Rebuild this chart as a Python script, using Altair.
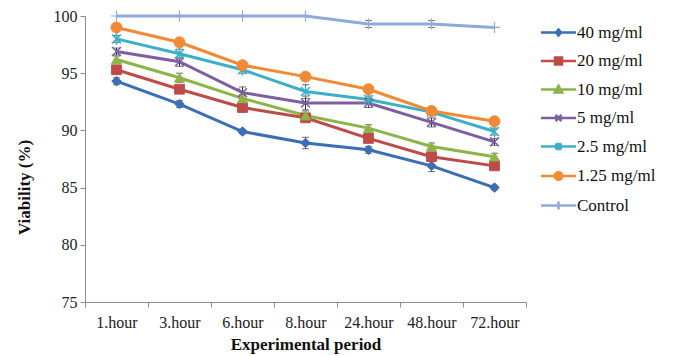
import altair as alt
import pandas as pd
import math

periods = ["1.hour", "3.hour", "6.hour", "8.hour", "24.hour", "48.hour", "72.hour"]
series_names = ["40 mg/ml", "20 mg/ml", "10 mg/ml", "5 mg/ml", "2.5 mg/ml", "1.25 mg/ml", "Control"]

v40 = [94.3, 92.3, 89.9, 88.9, 88.3, 86.9, 85.0]
v20 = [95.3, 93.6, 92.0, 91.1, 89.3, 87.7, 86.9]
v10 = [96.2, 94.6, 92.8, 91.3, 90.2, 88.6, 87.7]
v5 = [96.9, 96.0, 93.3, 92.4, 92.4, 90.7, 89.0]
v2_5 = [98.0, 96.7, 95.3, 93.4, 92.7, 91.6, 89.9]
v1_25 = [99.0, 97.7, 95.7, 94.7, 93.6, 91.7, 90.8]
vctrl = [100.0, 100.0, 100.0, 100.0, 99.3, 99.3, 99.0]

e40 = [0.3, 0.3, 0.2, 0.5, 0.3, 0.5, 0.2]
e20 = [0.3, 0.3, 0.2, 0.3, 0.3, 0.3, 0.3]
e10 = [0.3, 0.4, 0.3, 0.4, 0.3, 0.3, 0.3]
e5 = [0.3, 0.4, 0.5, 0.6, 0.4, 0.4, 0.3]
e2_5 = [0.3, 0.4, 0.3, 0.6, 0.3, 0.3, 0.3]
e1_25 = [0.2, 0.2, 0.2, 0.2, 0.2, 0.2, 0.2]
ectrl = [0.0, 0.0, 0.0, 0.0, 0.3, 0.3, 0.0]

colors = ["#3A6EB5", "#BE4B48", "#8DB449", "#7D5FA0", "#3DAFC8", "#F08A35", "#8DAADB"]

values = [v40, v20, v10, v5, v2_5, v1_25, vctrl]
errors = [e40, e20, e10, e5, e2_5, e1_25, ectrl]

rows = []
for name, vals, errs in zip(series_names, values, errors):
    for p, v, e in zip(periods, vals, errs):
        rows.append({"series": name, "period": p, "value": v, "lo": v - e, "hi": v + e})
df = pd.DataFrame(rows)

# chart marker styles per series: (shape, size, strokeWidth)
marker_styles = [
    ("diamond", 90, 1),
    ("square", 95, 1),
    ("triangle-up", 100, 1),
    ("M-1,-1L1,1M-1,1L1,-1", 80, 1.5),
    ("M-1,-1L1,1M-1,1L1,-1M0,-1.3L0,1.3", 80, 1.5),
    ("circle", 120, 1),
    ("M-1,0L1,0M0,-1L0,1", 120, 1.2),
]


def poly_circle(r, n=16):
    pts = []
    for i in range(n):
        a = 2 * math.pi * i / n
        pts.append(f"{r * math.cos(a):.3f},{r * math.sin(a):.3f}")
    return "M" + "L".join(pts) + "Z"


# legend symbols: line segment + marker
ln = "M-3.5,0L3.5,0"
legend_paths = [
    ln + "M0,-0.6L0.5,0L0,0.6L-0.5,0Z",
    ln + "M-0.7,-0.7L0.7,-0.7L0.7,0.7L-0.7,0.7Z",
    ln + "M0,-0.75L0.75,0.6L-0.75,0.6Z",
    ln + "M-0.6,-0.6L0.6,0.6M-0.6,0.6L0.6,-0.6",
    ln + "M-0.6,-0.6L0.6,0.6M-0.6,0.6L0.6,-0.6M0,-0.75L0,0.75",
    ln + poly_circle(0.75),
    ln + "M0,-0.8L0,0.8",
]

legend_opts = dict(
    title=None,
    orient="none",
    legendX=465,
    legendY=8,
    padding=0,
    labelFont="Liberation Serif",
    labelFontSize=17,
    labelColor="#111111",
    rowPadding=10.5,
    symbolSize=100,
    symbolStrokeWidth=2.5,
    symbolOpacity=1,
    labelOffset=10,
)

x_enc = alt.X(
    "period:N",
    sort=periods,
    scale=alt.Scale(type="band", domain=periods, paddingInner=0, paddingOuter=0),
    axis=alt.Axis(
        title="Experimental period",
        labelAngle=0,
        tickBand="extent",
        tickSize=5,
        labelPadding=7,
        titlePadding=6,
    ),
)
y_enc = alt.Y(
    "value:Q",
    scale=alt.Scale(domain=[75, 100], nice=False, zero=False),
    axis=alt.Axis(
        title="Viability (%)",
        values=[75, 80, 85, 90, 95, 100],
        tickSize=5,
        labelPadding=3,
        titlePadding=20,
        titleY=171,
    ),
)

base = alt.Chart(df)

lines = base.mark_line(strokeWidth=3).encode(
    x=x_enc,
    y=y_enc,
    color=alt.Color(
        "series:N",
        scale=alt.Scale(domain=series_names, range=colors),
        legend=alt.Legend(**legend_opts),
    ),
    strokeWidth=alt.condition(alt.datum.series == "Control", alt.value(2.5), alt.value(3)),
    detail="series:N",
)

point_layers = []
for name, col, (shp, sz, sw) in zip(series_names, colors, marker_styles):
    point_layers.append(
        base.transform_filter(alt.datum.series == name)
        .mark_point(shape=shp, size=sz, filled=True, fill=col, stroke=col, strokeWidth=sw, opacity=1)
        .encode(x=x_enc, y=y_enc)
    )

err_base = base.transform_filter(alt.datum.hi > alt.datum.lo)
err_rule = err_base.mark_rule(color="#333333", strokeWidth=1).encode(x=x_enc, y="lo:Q", y2="hi:Q")
err_lo = err_base.mark_tick(color="#333333", thickness=1, size=7).encode(x=x_enc, y="lo:Q")
err_hi = err_base.mark_tick(color="#333333", thickness=1, size=7).encode(x=x_enc, y="hi:Q")

# invisible layer that only supplies the legend symbols (line + marker)
legend_layer = base.mark_point(
    filled=True, size=100, strokeWidth=2.5, opacity=0
).encode(
    x=x_enc,
    y=y_enc,
    shape=alt.Shape(
        "series:N",
        scale=alt.Scale(domain=series_names, range=legend_paths),
        legend=alt.Legend(**legend_opts),
    ),
    fill=alt.Fill(
        "series:N",
        scale=alt.Scale(domain=series_names, range=colors),
        legend=alt.Legend(**legend_opts),
    ),
)

chart = alt.layer(
    lines, err_rule, err_lo, err_hi, *point_layers, legend_layer
).properties(
    width=441,
    height=286,
    autosize=alt.AutoSizeParams(type="none"),
    padding={"left": 85, "top": 16, "right": 155, "bottom": 54},
).configure(
    font="Liberation Serif",
).configure_view(
    stroke=None
).configure_axis(
    grid=False,
    labelFont="Liberation Serif",
    labelFontSize=16,
    labelColor="#222222",
    titleFont="Liberation Serif",
    titleFontSize=17,
    titleFontWeight="bold",
    titleColor="#111111",
    domainColor="#8c8c8c",
    tickColor="#8c8c8c",
).configure_legend(
    labelFont="Liberation Serif",
    labelFontSize=17,
    labelColor="#111111",
)

chart.save("out.html", embed_options={"renderer": "svg", "actions": False})
